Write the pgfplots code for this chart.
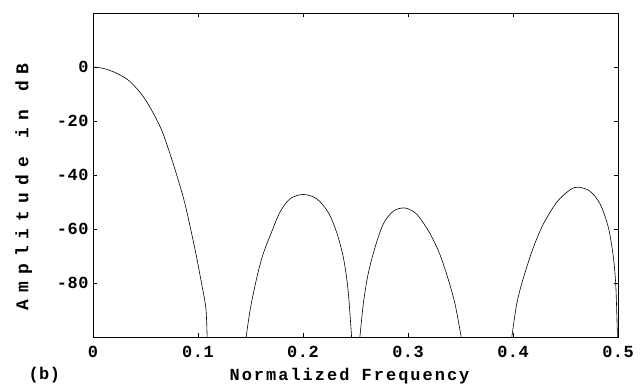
\documentclass[border=0pt]{standalone}
\usepackage{fontspec}
\setmainfont{Liberation Mono}
\newfontfamily\tickfont[LetterSpace=3]{Liberation Mono Bold}
\newfontfamily\xlabfont[LetterSpace=12]{Liberation Mono Bold}
\newfontfamily\ylabfont[LetterSpace=40]{Liberation Mono Bold}
\usepackage{pgfplots}
\pgfplotsset{compat=1.18}
\begin{document}
\begin{tikzpicture}
\begin{axis}[
  scale only axis,
  width=525bp, height=324bp,
  xmin=0, xmax=0.5, ymin=-100, ymax=20,
  xtick={0,0.1,0.2,0.3,0.4,0.5},
  xticklabels={0,0.1,0.2,0.3,0.4,0.5},
  ytick={-80,-60,-40,-20,0},
  yticklabels={-80,-60,-40,-20,0},
  tick align=inside,
  major tick length=4bp,
  axis line style={line width=0.9pt},
  tick style={line width=0.7pt,black},
  ticklabel style={font=\tickfont\fontsize{17}{19}\selectfont},
  xticklabel style={yshift=-6bp},
  yticklabel style={xshift=-1bp},
  xlabel={\xlabfont\fontsize{17}{19}\selectfont Normalized Frequency},
  ylabel={\ylabfont\fontsize{18}{20}\selectfont Amplitude in dB},
  xlabel style={xshift=-6bp, yshift=-3bp},
  ylabel style={yshift=18bp, xshift=-12bp},
  clip=true,
]
\addplot[black, line width=0.6pt, smooth] coordinates {
(0,0) (0.0098,-0.5) (0.0225,-2.3) (0.035,-5.3) (0.048,-11) (0.0575,-17.2)
(0.0654,-23.4) (0.0733,-32.1) (0.0813,-42) (0.0876,-50.7) (0.094,-61.8)
(0.0987,-70.5) (0.1035,-80.4) (0.1076,-89.7) (0.1088,-102)
};
\addplot[black, line width=0.6pt, smooth] coordinates {
(0.1452,-102) (0.1495,-90.3) (0.156,-78) (0.162,-69.3) (0.170,-61.2)
(0.178,-53.8) (0.1876,-48.8) (0.2003,-47.2) (0.213,-48.8) (0.224,-53.8)
(0.232,-61.2) (0.2384,-70.5) (0.243,-82.9) (0.2466,-102)
};
\addplot[black, line width=0.6pt, smooth] coordinates {
(0.2537,-102) (0.2574,-87.8) (0.262,-76.7) (0.2686,-66.8) (0.2765,-58.1)
(0.286,-53.4) (0.297,-52.2) (0.308,-54.4) (0.3193,-60.6) (0.3289,-68)
(0.3368,-76.7) (0.3448,-87.8) (0.3515,-102)
};
\addplot[black, line width=0.6pt, smooth] coordinates {
(0.3982,-102) (0.4035,-87.8) (0.410,-78) (0.4194,-66.8) (0.429,-58.1)
(0.4416,-50.1) (0.4543,-45.5) (0.4622,-44.5) (0.4733,-46) (0.4829,-50.7)
(0.4908,-59.4) (0.4956,-70.5) (0.498,-81.7) (0.4996,-102)
};
\end{axis}
\node[anchor=west, font=\tickfont\fontsize{17}{19}\selectfont] at ([shift={(-68bp,-38bp)}]current axis.south west) {(b)};
\path ([shift={(-93bp,-46bp)}]current axis.south west) rectangle ([shift={(22bp,13bp)}]current axis.north east);
\end{tikzpicture}
\end{document}
